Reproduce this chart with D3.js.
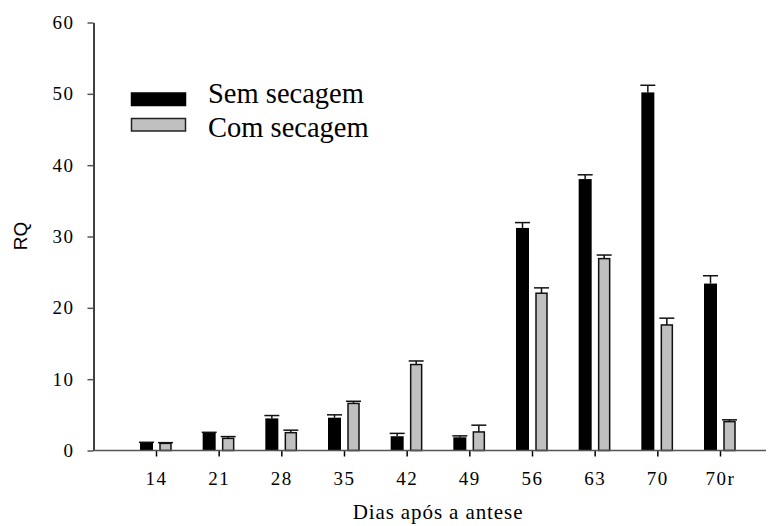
<!DOCTYPE html>
<html>
<head>
<meta charset="utf-8">
<script src="https://cdn.jsdelivr.net/npm/d3@7"></script>
<style>
  html, body { margin: 0; padding: 0; background: #fff; }
  svg { display: block; }
  .tick text { font-family: "Liberation Serif", "Times New Roman", serif; }
</style>
</head>
<body>
<svg id="chart" width="771" height="526"></svg>
<script>
// Days after anthesis (70r = rehydrated sample at day 70)
const categories = ["14", "21", "28", "35", "42", "49", "56", "63", "70", "70r"];
// RQ without drying, with standard error
const semSecagem    = [1.1, 2.5, 4.5, 4.6, 2.0, 1.85, 31.2, 38.05, 50.2, 23.4];
const semSecagemErr = [0.05, 0.05, 0.4, 0.4, 0.4, 0.2, 0.75, 0.6, 1.0, 1.1];
// RQ with drying, with standard error
const comSecagem    = [1.0, 1.7, 2.5, 6.6, 12.05, 2.6, 22.05, 26.9, 17.6, 4.05];
const comSecagemErr = [0.1, 0.25, 0.35, 0.3, 0.5, 0.95, 0.75, 0.5, 0.95, 0.25];
const yTicks = [0, 10, 20, 30, 40, 50, 60];
const seriesNames = ["Sem secagem", "Com secagem"];

const svg = d3.select("#chart");

const x = d3.scalePoint().domain(categories).range([156, 720]);
const y = d3.scaleLinear().domain([0, 60]).range([450.5, 22.5]);
const axisLeft = 93.5, axisRight = 766;

const series = [
  { name: seriesNames[0], values: semSecagem, errs: semSecagemErr, fill: "#000", stroke: "#000", dx: -16, w: 13 },
  { name: seriesNames[1], values: comSecagem, errs: comSecagemErr, fill: "#c0c0c0", stroke: "#111", dx: 4, w: 11 }
];

// Bars
series.forEach(s => {
  const g = svg.append("g");
  g.selectAll("rect")
    .data(categories.map((c, i) => ({ c, v: s.values[i], e: s.errs[i] })))
    .join("rect")
    .attr("x", d => x(d.c) + s.dx)
    .attr("y", d => y(d.v))
    .attr("width", s.w)
    .attr("height", d => y(0) - y(d.v))
    .attr("fill", s.fill)
    .attr("stroke", s.stroke)
    .attr("stroke-width", s.fill === "#000" ? 0 : 1.5);

  // Upper error bars
  const eb = svg.append("g").attr("stroke", "#111").attr("stroke-width", 1.5);
  categories.forEach((c, i) => {
    const cx = x(c) + s.dx + s.w / 2;
    const top = y(s.values[i] + s.errs[i]);
    eb.append("line").attr("x1", cx).attr("x2", cx).attr("y1", y(s.values[i])).attr("y2", top);
    eb.append("line").attr("x1", cx - 7.5).attr("x2", cx + 7.5).attr("y1", top).attr("y2", top);
  });
});

// Y axis
const yAxis = svg.append("g")
  .attr("transform", `translate(${axisLeft},0)`)
  .call(d3.axisLeft(y).tickValues(yTicks).tickSize(6).tickPadding(13).tickSizeOuter(0));
yAxis.select(".domain").attr("stroke", "#000").attr("stroke-width", 1.5);
yAxis.selectAll(".tick line").attr("stroke", "#555").attr("stroke-width", 1.5);
yAxis.selectAll(".tick text")
  .attr("font-size", 19).attr("letter-spacing", 1.5).attr("fill", "#000").attr("dy", "0.32em");

// X axis
const xAxis = svg.append("g")
  .attr("transform", `translate(0,${y(0)})`)
  .call(d3.axisBottom(x).tickSize(6).tickPadding(0).tickSizeOuter(0));
xAxis.select(".domain").remove();
xAxis.append("line")
  .attr("x1", axisLeft).attr("x2", axisRight).attr("y1", 0).attr("y2", 0)
  .attr("stroke", "#555").attr("stroke-width", 1.5);
xAxis.selectAll(".tick line").attr("stroke", "#000").attr("stroke-width", 1.5);
xAxis.selectAll(".tick text")
  .attr("font-size", 19).attr("letter-spacing", 1.5).attr("fill", "#000")
  .attr("dy", 0).attr("y", 34.5);

// Axis titles
svg.append("text")
  .attr("transform", "translate(27,236) rotate(-90)")
  .attr("text-anchor", "middle")
  .attr("font-family", "'Liberation Sans', Arial, sans-serif")
  .attr("font-size", 19)
  .text("RQ");

svg.append("text")
  .attr("x", 438).attr("y", 519)
  .attr("text-anchor", "middle")
  .attr("font-family", "'Liberation Serif', 'Times New Roman', serif")
  .attr("font-size", 21).attr("letter-spacing", 0.9)
  .text("Dias após a antese");

// Legend
const legend = svg.append("g");
const legendRows = [
  { name: seriesNames[0], fill: "#000", stroke: "#000", ry: 93, ty: 103 },
  { name: seriesNames[1], fill: "#c0c0c0", stroke: "#222", ry: 118.5, ty: 137 }
];
legendRows.forEach(r => {
  legend.append("rect")
    .attr("x", 131.5).attr("y", r.ry).attr("width", 54).attr("height", 12.5)
    .attr("fill", r.fill).attr("stroke", r.stroke).attr("stroke-width", 1.5);
  legend.append("text")
    .attr("x", 208).attr("y", r.ty)
    .attr("font-family", "'Liberation Serif', 'Times New Roman', serif")
    .attr("font-size", 28.5)
    .text(r.name);
});
</script>
</body>
</html>
